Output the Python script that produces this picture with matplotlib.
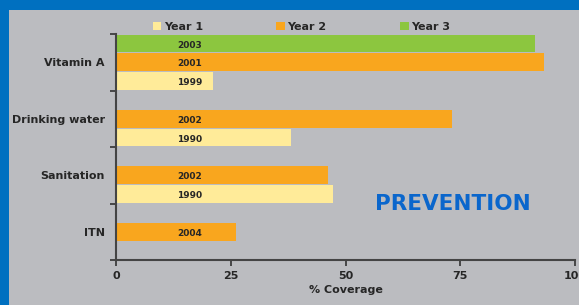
import numpy as np
import matplotlib.pyplot as plt
from matplotlib.patches import Rectangle
from matplotlib.ticker import FixedLocator

# data (bottom to top)
categories = ['ITN', 'Sanitation', 'Drinking water', 'Vitamin A']
year1_vals = [np.nan, 47.3, 38.1, 21.1]
year2_vals = [26.1, 46.2, 73.2, 93.2]
year3_vals = [np.nan, np.nan, np.nan, 91.3]
year1_lbl = ['', '1990', '1990', '1999']
year2_lbl = ['2004', '2002', '2002', '2001']
year3_lbl = ['', '', '', '2003']
series_names = ['Year 1', 'Year 2', 'Year 3']
colors = ['#ffeb99', '#f9a61e', '#8cc63f']

txt = '#262626'
plt.rcParams['font.family'] = 'DejaVu Sans'
plt.rcParams['font.weight'] = 'bold'

fig = plt.figure(figsize=(5.79, 3.05), dpi=100)
fig.patch.set_facecolor('#0070c0')
# gray panel behind the chart
fig.patches.append(Rectangle((9 / 579, 0), 1, 1 - 10 / 305, transform=fig.transFigure,
                             facecolor='#bbbcc0', edgecolor='none', zorder=-5))

ax = fig.add_axes([116 / 579, 45 / 305, 459 / 579, 226 / 305])
ax.set_facecolor('none')
ax.set_zorder(2)

y = np.arange(len(categories))
slot = 1 / 3.0
h = 0.31
for i, (vals, lbls) in enumerate([(year1_vals, year1_lbl), (year2_vals, year2_lbl), (year3_vals, year3_lbl)]):
    pos = y + (i - 1) * slot
    ax.barh(pos, vals, height=h, color=colors[i], label=series_names[i], zorder=2)
    for p, l in zip(pos, lbls):
        if l:
            ax.text(16, p - 0.03, l, ha='center', va='center', fontsize=6.5,
                    color=txt, fontweight='bold', zorder=3)

ax.set_xlim(0, 100)
ax.set_ylim(-0.5, 3.5)
ax.set_xticks([0, 25, 50, 75, 100])
ax.set_yticks(y)
ax.set_yticklabels(categories)
ax.yaxis.set_minor_locator(FixedLocator(np.arange(-0.5, 4, 1)))
ax.tick_params(axis='y', which='major', length=0, pad=8, labelsize=8, labelcolor=txt)
ax.tick_params(axis='y', which='minor', length=4, width=1.2, color='#333333')
ax.tick_params(axis='x', length=4, width=1.2, color='#333333', labelsize=8,
               labelcolor=txt, pad=4)
for s in ['top', 'right']:
    ax.spines[s].set_visible(False)
for s in ['left', 'bottom']:
    ax.spines[s].set_color('#444444')
    ax.spines[s].set_linewidth(1.5)
ax.set_xlabel('% Coverage', fontsize=8, color=txt, fontweight='bold', labelpad=3)

ax.legend(loc='lower left', bbox_to_anchor=(0.07, 0.99), ncol=3, frameon=False,
          fontsize=8, handlelength=0.8, handleheight=0.8, handletextpad=0.2,
          columnspacing=6.6, borderaxespad=0.0, labelcolor=txt)

fig.text(453 / 579, 1 - 204 / 305, 'PREVENTION', ha='center', va='center',
         fontsize=15.5, fontweight='bold', color='#0a66cc', zorder=3)

fig.savefig('out.png', dpi=100, facecolor=fig.get_facecolor())
